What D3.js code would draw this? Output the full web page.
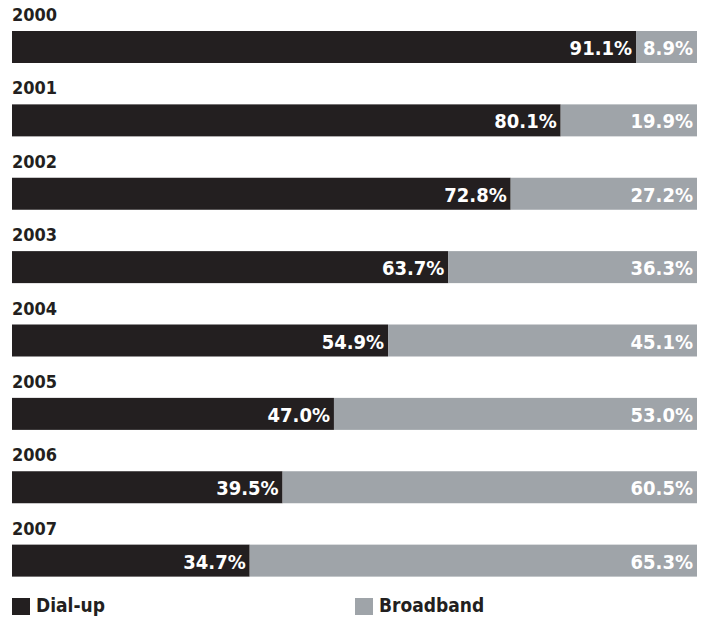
<!DOCTYPE html>
<html><head><meta charset="utf-8">
<script src="https://cdn.jsdelivr.net/npm/d3@7"></script>
<style>body{margin:0;background:#fff}svg{display:block}text{font-family:"Liberation Sans Narrow","DejaVu Sans Condensed",sans-serif;font-weight:bold}</style>
</head><body>
<svg id="c" width="709" height="618"></svg>
<script>
const years = ["2000","2001","2002","2003","2004","2005","2006","2007"];
const dialup = [91.1, 80.1, 72.8, 63.7, 54.9, 47.0, 39.5, 34.7];
const broadband = [8.9, 19.9, 27.2, 36.3, 45.1, 53.0, 60.5, 65.3];
const seriesNames = ["Dial-up", "Broadband"];
const colors = ["#231f20", "#9fa4a9"];

const svg = d3.select("#c");
const x = d3.scaleLinear().domain([0, 100]).range([12, 697]);
const y = d3.scaleBand().domain(years).range([0, 587]).paddingInner(0).paddingOuter(0);
const barTop = 31, barH = 32;

const rows = svg.selectAll("g.row").data(years).join("g").attr("class","row")
  .attr("transform", d => `translate(0,${y(d)})`);
rows.append("text").attr("x", 12).attr("y", 21).attr("font-size", 18).attr("fill", "#231f20").text(d => d);
rows.each(function(d, i) {
  const g = d3.select(this);
  const segs = [[0, dialup[i]], [dialup[i], dialup[i] + broadband[i]]];
  const vals = [dialup[i], broadband[i]];
  segs.forEach((s, k) => {
    g.append("rect").attr("x", x(s[0])).attr("y", barTop).attr("width", x(s[1]) - x(s[0])).attr("height", barH).attr("fill", colors[k]);
    g.append("text").attr("x", x(Math.min(s[1],100)) - 4).attr("y", barTop + 24).attr("text-anchor", "end")
      .attr("font-size", 20).attr("fill", "#fff").text(vals[k].toFixed(1) + "%");
  });
});

const legX = [12, 355];
seriesNames.forEach((n, k) => {
  svg.append("rect").attr("x", legX[k]).attr("y", 598).attr("width", 18).attr("height", 17).attr("fill", colors[k]);
  svg.append("text").attr("x", legX[k] + 24).attr("y", 612).attr("font-size", 19).attr("fill", "#231f20").text(n);
});
</script>
</body></html>
